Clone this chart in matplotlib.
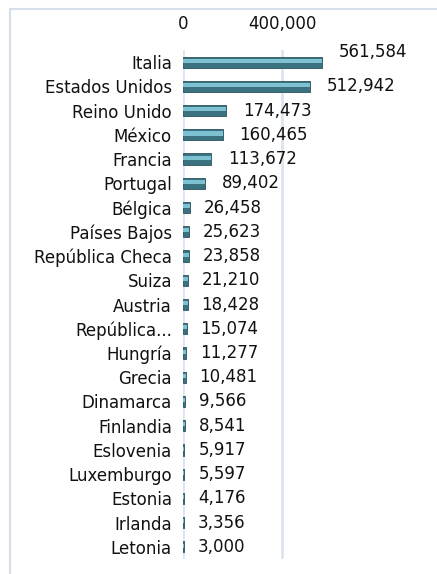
import matplotlib
matplotlib.use("Agg")
import matplotlib.pyplot as plt
from matplotlib.patches import Rectangle

countries = ["Italia", "Estados Unidos", "Reino Unido", "México", "Francia", "Portugal",
             "Bélgica", "Países Bajos", "República Checa", "Suiza", "Austria", "República...",
             "Hungría", "Grecia", "Dinamarca", "Finlandia", "Eslovenia", "Luxemburgo",
             "Estonia", "Irlanda", "Letonia"]
values = [561584, 512942, 174473, 160465, 113672, 89402, 26458, 25623, 23858, 21210,
          18428, 15074, 11277, 10481, 9566, 8541, 5917, 5597, 4176, 3356, 3000]
tick_values = [0, 400000]

W, H = 437, 574
fig = plt.figure(figsize=(W / 100, H / 100), dpi=100)
plt.rcParams['font.family'] = ['DejaVu Sans']

# outer chart border
fig.patches.append(Rectangle((10 / W, -0.1), 1.2, 1 - 9 / H + 0.1, transform=fig.transFigure,
                             fill=False, edgecolor='#d6dfe9', linewidth=1.5))

ax = fig.add_axes([183 / W, 1 - 559 / H, (381 - 183) / W, (559 - 50) / H])
y = list(range(len(countries)))
ax.set_xlim(0, 800000)
ax.set_ylim(len(countries) - 0.5, -0.5)

grid_color = '#dce5ef'
for t in tick_values:
    ax.axvline(t, color=grid_color, linewidth=2, zorder=0)

bh = 0.46
ax.barh(y, values, height=bh, color='#3a7280', edgecolor='#2a5460', linewidth=0.6, zorder=2)
ax.barh([v - bh * 0.12 for v in y], values, height=bh * 0.36, color='#7cc2d2',
        linewidth=0, zorder=3)

fs = 12
for yi, v in zip(y, values):
    dy = -7 if yi == 0 else 0
    ax.annotate(f"{v:,}", xy=(v, yi), xytext=(10 if yi > 5 else 12, -dy),
                textcoords='offset points', va='center', ha='left',
                fontsize=fs, color='#111111', clip_on=False)

ax.set_yticks(y)
ax.set_yticklabels(countries, fontsize=fs, color='#111111')
ax.tick_params(axis='y', length=0, pad=8)
ax.xaxis.tick_top()
ax.set_xticks(tick_values)
ax.set_xticklabels([f"{t:,}" for t in tick_values], fontsize=fs, color='#111111')
ax.tick_params(axis='x', length=0, pad=12)
for s in ax.spines.values():
    s.set_visible(False)
ax.set_facecolor('none')

fig.savefig("out.png", dpi=100)
